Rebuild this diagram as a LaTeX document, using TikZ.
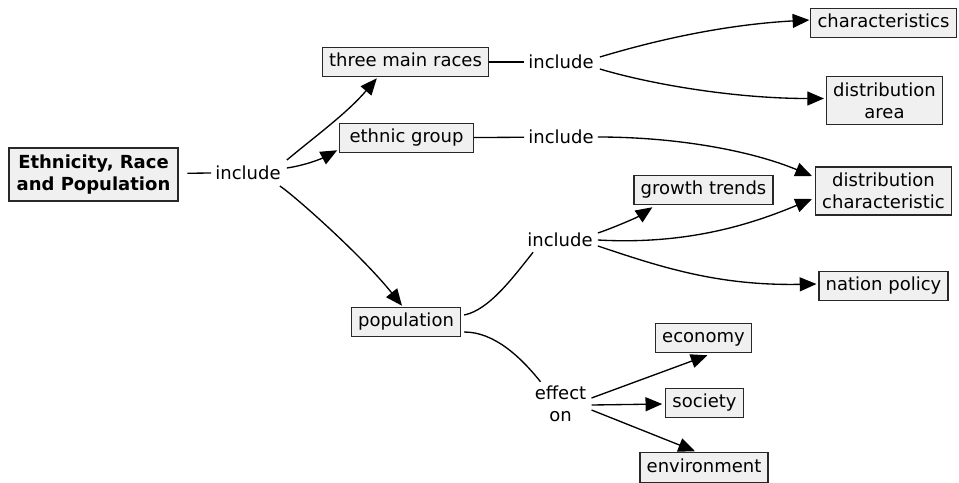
\documentclass[tikz,border=0pt]{standalone}
\usepackage{fontspec}
\setmainfont{DejaVu Sans}
\usetikzlibrary{arrows.meta,calc}

\definecolor{boxfill}{RGB}{240,240,240}
\definecolor{boxline}{RGB}{40,40,40}

\tikzset{
  concept/.style={draw=boxline, fill=boxfill, line width=0.9pt, inner xsep=5pt, inner ysep=4.5pt,
    text height=10pt, text depth=3pt, align=center, font=\fontsize{13.5}{16.5}\selectfont},
  twoline/.style={concept, text height={}, text depth={}},
  linkword/.style={inner sep=3pt, align=center, font=\fontsize{13.5}{16.5}\selectfont},
  conn/.style={line width=1pt},
  arr/.style={conn, -{Triangle[length=12.5pt,width=10.5pt]}},
}

\begin{document}
\begin{tikzpicture}[x=0.75pt,y=0.75pt,yscale=-1,xscale=1]
\useasboundingbox (0,0) rectangle (959,482);

% concepts
\node [twoline, line width=1.5pt, inner xsep=6pt, inner ysep=5pt, font=\bfseries\fontsize{13.5}{17}\selectfont] (root) at (93.5,174.5) {Ethnicity, Race\\and Population};
\node [concept] (races) at (405.5,62) {three main races};
\node [concept, minimum width=100pt] (ethnic) at (406.5,138) {ethnic group};
\node [concept] (popu) at (406,322) {population};
\node [concept] (charac) at (883.5,23) {characteristics};
\node [twoline] (area) at (884.5,100.5) {distribution\\area};
\node [twoline] (distchar) at (883.5,191) {distribution\\characteristic};
\node [concept] (growth) at (703.5,190) {growth trends};
\node [concept] (policy) at (883.5,286) {nation policy};
\node [concept] (economy) at (703.5,338) {economy};
\node [concept] (society) at (704.5,403) {society};
\node [concept] (environ) at (704,467.5) {environment};

% linking words
\node [linkword] (inc1) at (248,172.5) {include};
\node [linkword] (inc2) at (561,62) {include};
\node [linkword] (inc3) at (561,137) {include};
\node [linkword] (inc4) at (560,240) {include};
\node [linkword] (effect) at (560.5,404) {effect\\on};

% root
\draw [conn, shorten <=6pt] (root) -- (inc1);
\draw [arr] ($(inc1.east)+(2,-12.5)$) .. controls +(30,-25) and +(-30,35) .. ($(races.south west)+(55,1)$);
\draw [arr] ($(inc1.east)+(2,-4.5)$) .. controls +(20,-3) and +(-15,8) .. ($(ethnic.south west)+(-2,-3)$);
\draw [arr] ($(inc1.east)+(-5,13.5)$) .. controls +(15,10) and +(-40,-50) .. ($(popu.north)+(-4,-1)$);

% three main races
\draw [conn] (races) -- (inc2);
\draw [arr] ($(inc2.east)+(2,-5)$) .. controls +(50,-15) and +(-90,5) .. ($(charac.west)+(-1,-3)$);
\draw [arr] ($(inc2.east)+(2,7)$) .. controls +(50,15) and +(-90,0) .. ($(area.west)+(-2,-2)$);

% ethnic group
\draw [conn] (ethnic) -- (inc3);
\draw [arr] (inc3.east) .. controls +(80,0) and +(-60,-25) .. ($(distchar.west)+(-3,-15)$);

% population
\draw [conn] ($(popu.east)+(3,-7)$) .. controls +(25,-5) and +(-20,25) .. ($(inc4.south west)+(10,1)$);
\draw [arr] ($(inc4.east)+(1,-7)$) .. controls +(15,-5) and +(-15,10) .. ($(growth.south west)+(19,2)$);
\draw [arr] ($(inc4.east)+(1,0)$) .. controls +(90,5) and +(-60,25) .. ($(distchar.west)+(-3,8)$);
\draw [arr] ($(inc4.east)+(1,6)$) .. controls +(60,20) and +(-100,2) .. ($(policy.west)+(-2,-2)$);

\draw [conn] ($(popu.east)+(3,10)$) .. controls +(30,0) and +(-20,-25) .. ($(effect.north)+(-20,0)$);
\draw [arr] ($(effect.east)+(1,-6)$) -- ($(economy.south)+(4,2)$);
\draw [arr] ($(effect.east)+(1,1)$) -- ($(society.west)+(-3,1)$);
\draw [arr] ($(effect.east)+(1,6)$) -- ($(environ.north)+(-9,-1)$);

\end{tikzpicture}
\end{document}
